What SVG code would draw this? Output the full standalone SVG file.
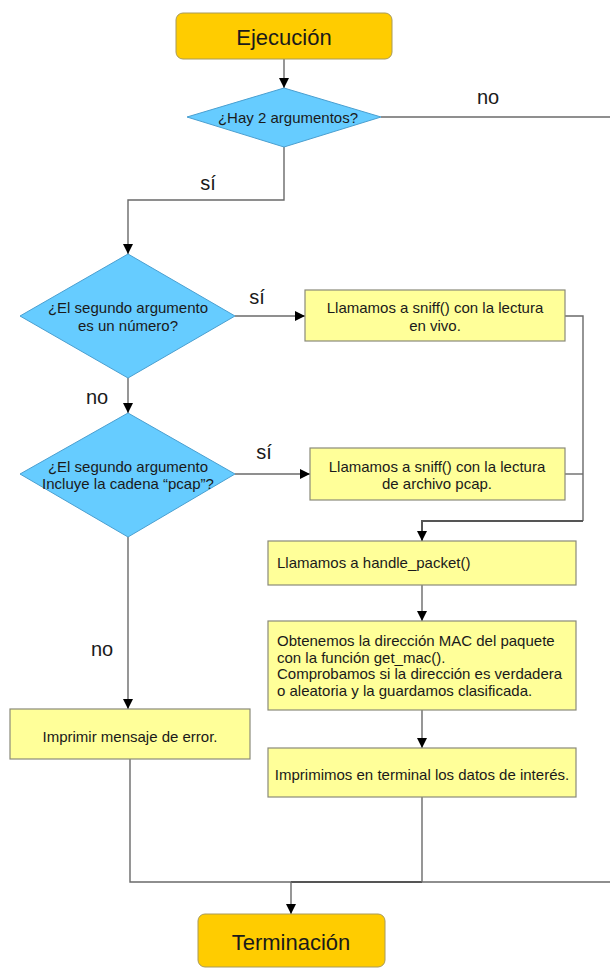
<svg xmlns="http://www.w3.org/2000/svg" width="610" height="974" viewBox="0 0 610 974">
<defs>
<marker id="ah" viewBox="0 0 10 10" refX="10" refY="5" markerWidth="10" markerHeight="10" markerUnits="userSpaceOnUse" orient="auto">
<path d="M0,0 L10,5 L0,10 z" fill="#000"/>
</marker>
<style>
.term{fill:#ffcc00;stroke:#a89a5a;stroke-width:1}
.dec{fill:#66ccff;stroke:#4a9fd0;stroke-width:1}
.proc{fill:#ffff99;stroke:#8a8a7a;stroke-width:1.2}
.edge{fill:none;stroke:#6a6a6a;stroke-width:1.4}
.thick{stroke:#555;stroke-width:2}
.arr{marker-end:url(#ah)}
text{font-family:"Liberation Sans",Arial,sans-serif;fill:#1a1a1a}
.big{font-size:22px}
.lbl{font-size:20px}
.t{font-size:15px}
.c{text-anchor:middle}
</style>
</defs>
<g id="connectors">
<path class="edge arr" d="M284,59 V88"/>
<path class="edge" d="M381,117 H610"/>
<path class="edge arr" d="M284,147 V200 H128 V254"/>
<path class="edge arr" d="M235,316 H305"/>
<path class="edge arr" d="M128,378 V413"/>
<path class="edge arr" d="M235,474 H310"/>
<path class="edge" d="M565,316 H583 V521"/>
<path class="edge" d="M565,474 H583"/>
<path class="edge thick arr" d="M583,521 H422 V541"/>
<path class="edge arr" d="M422,585 V621"/>
<path class="edge arr" d="M422,710 V748"/>
<path class="edge arr" d="M128,537 V709"/>
<path class="edge" d="M130,759 V882 H610"/>
<path class="edge thick" d="M291,882 H422"/>
<path class="edge" d="M422,797 V882"/>
<path class="edge arr" d="M291,882 V914"/>
<text class="lbl c" x="488" y="104">no</text>
<text class="lbl c" x="208" y="190">sí</text>
<text class="lbl c" x="257" y="304">sí</text>
<text class="lbl c" x="97" y="404">no</text>
<text class="lbl c" x="264" y="459">sí</text>
<text class="lbl c" x="102" y="656">no</text>
</g>
<g id="ejecucion">
<rect class="term" x="176" y="13" width="216" height="46" rx="7"/>
<text class="big c" x="284" y="45">Ejecución</text>
</g>
<g id="d1">
<polygon class="dec" points="284,88 381,117 284,147 187,117"/>
<text class="t c" x="288" y="123">¿Hay 2 argumentos?</text>
</g>
<g id="d2">
<polygon class="dec" points="128,254 235,316 128,378 20,316"/>
<text class="t c" x="128" y="313">¿El segundo argumento</text>
<text class="t c" x="128" y="331">es un número?</text>
</g>
<g id="p1">
<rect class="proc" x="305" y="290" width="260" height="51"/>
<text class="t c" x="435" y="313">Llamamos a sniff() con la lectura</text>
<text class="t c" x="435" y="331">en vivo.</text>
</g>
<g id="d3">
<polygon class="dec" points="128,413 235,474 128,537 20,474"/>
<text class="t c" x="128" y="472">¿El segundo argumento</text>
<text class="t c" x="128" y="489">Incluye la cadena “pcap”?</text>
</g>
<g id="p2">
<rect class="proc" x="310" y="448" width="255" height="52"/>
<text class="t c" x="437" y="472">Llamamos a sniff() con la lectura</text>
<text class="t c" x="437" y="489">de archivo pcap.</text>
</g>
<g id="p3">
<rect class="proc" x="268" y="541" width="308" height="44"/>
<text class="t" x="277" y="568">Llamamos a handle_packet()</text>
</g>
<g id="p4">
<rect class="proc" x="268" y="621" width="308" height="89"/>
<text class="t" x="277" y="646">Obtenemos la dirección MAC del paquete</text>
<text class="t" x="277" y="663">con la función get_mac().</text>
<text class="t" x="277" y="679">Comprobamos si la dirección es verdadera</text>
<text class="t" x="277" y="696">o aleatoria y la guardamos clasificada.</text>
</g>
<g id="p5">
<rect class="proc" x="268" y="748" width="308" height="49"/>
<text class="t c" x="422" y="780">Imprimimos en terminal los datos de interés.</text>
</g>
<g id="p6">
<rect class="proc" x="10" y="709" width="240" height="50"/>
<text class="t c" x="130" y="742">Imprimir mensaje de error.</text>
</g>
<g id="terminacion">
<rect class="term" x="198" y="914" width="187" height="53" rx="7"/>
<text class="big c" x="291" y="950">Terminación</text>
</g>
</svg>
